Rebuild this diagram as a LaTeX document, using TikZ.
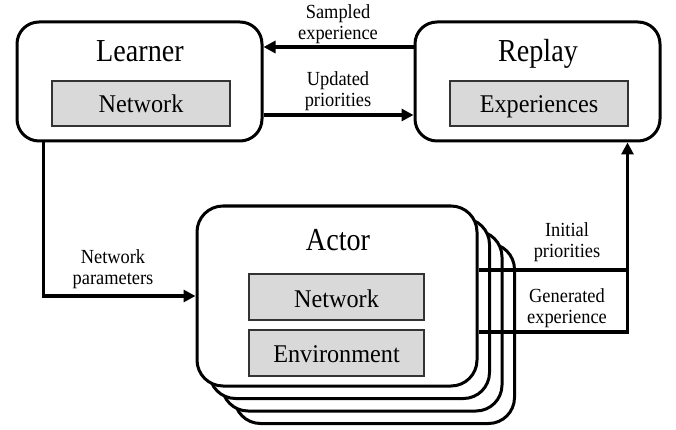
\documentclass[tikz,border=0pt]{standalone}
\usepackage{fontspec}
\setmainfont{Liberation Serif}
\newfontfamily\ttlfont[FakeStretch=0.88]{Liberation Serif}
\newfontfamily\infont[FakeStretch=0.95]{Liberation Serif}
\newfontfamily\lblfont[FakeStretch=0.92]{Liberation Serif}
\usetikzlibrary{arrows.meta}
\begin{document}
\begin{tikzpicture}[x=1pt,y=-1pt,
 bigbox/.style={draw, line width=3pt, rounded corners=22pt, fill=white, inner sep=0pt},
 actbox/.style={bigbox, rounded corners=26pt, minimum width=280pt, minimum height=180pt},
 inbox/.style={draw=black!80, line width=1.2pt, fill=black!15, inner sep=0pt},
 intxt/.style={anchor=base, inner sep=0pt, font=\infont\fontsize{25.5}{30}\selectfont},
 ttl/.style={anchor=base, font=\ttlfont\fontsize{32}{38}\selectfont, inner sep=0pt},
 lbl/.style={font=\lblfont\fontsize{20}{21.5}\selectfont, align=center, inner sep=0pt},
 arr/.style={line width=3.5pt, -{Triangle[length=12pt,width=12pt]}},
 ln/.style={line width=3.5pt}]
\useasboundingbox (0,0) rectangle (676,430);
% Learner
\node[bigbox, minimum width=245pt, minimum height=119pt] (L) at (139.5,81.5) {};
\node[ttl] (Lt) at (140,62) {Learner};
\node[inbox, minimum width=178pt, minimum height=45pt] (Ln) at (141,103.5) {};
\node[intxt] (Lnt) at (141,113) {Network};
% Replay
\node[bigbox, minimum width=245pt, minimum height=119pt] (R) at (537.5,81.5) {};
\node[ttl] (Rt) at (538,62) {Replay};
\node[inbox, minimum width=178pt, minimum height=45pt] (Re) at (539,103.5) {};
\node[intxt] (Ret) at (539,113) {Experiences};
% Actor stack
\node[actbox] (A3) at (374.5,333.5) {};
\node[actbox] (A2) at (362,321) {};
\node[actbox] (A1) at (349.5,308.5) {};
\node[actbox] (A) at (337,296) {};
\node[ttl] (At) at (338,250) {Actor};
\node[inbox, minimum width=175pt, minimum height=46pt] (An) at (336.5,297) {};
\node[intxt] (Ant) at (336.5,307) {Network};
\node[inbox, minimum width=175pt, minimum height=46pt] (Ae) at (336.5,353) {};
\node[intxt] (Aet) at (336.5,362.5) {Environment};
% labels
\node[lbl] (l1) at (338,24) {Sampled\\experience};
\node[lbl] (l2) at (338,91) {Updated\\priorities};
\node[lbl] (l3) at (113,269) {Network\\parameters};
\node[lbl] (l4) at (567,242) {Initial\\priorities};
\node[lbl] (l5) at (567,308) {Generated\\experience};
% connectors
\draw[arr] ([yshift=34.5pt]R.west) -- ([yshift=34.5pt]L.east);
\draw[arr] ([yshift=-33.5pt]L.east) -- ([yshift=-33.5pt]R.west);
\draw[arr] ([xshift=28pt]L.south west) |- (A.west);
\coordinate (rb) at ([xshift=90pt]R.south);
\draw[ln] ([yshift=26pt]A.east) -- ([yshift=26pt]A.east -| rb);
\draw[arr] ([yshift=-36pt]A.east) -| (rb);
\end{tikzpicture}
\end{document}
